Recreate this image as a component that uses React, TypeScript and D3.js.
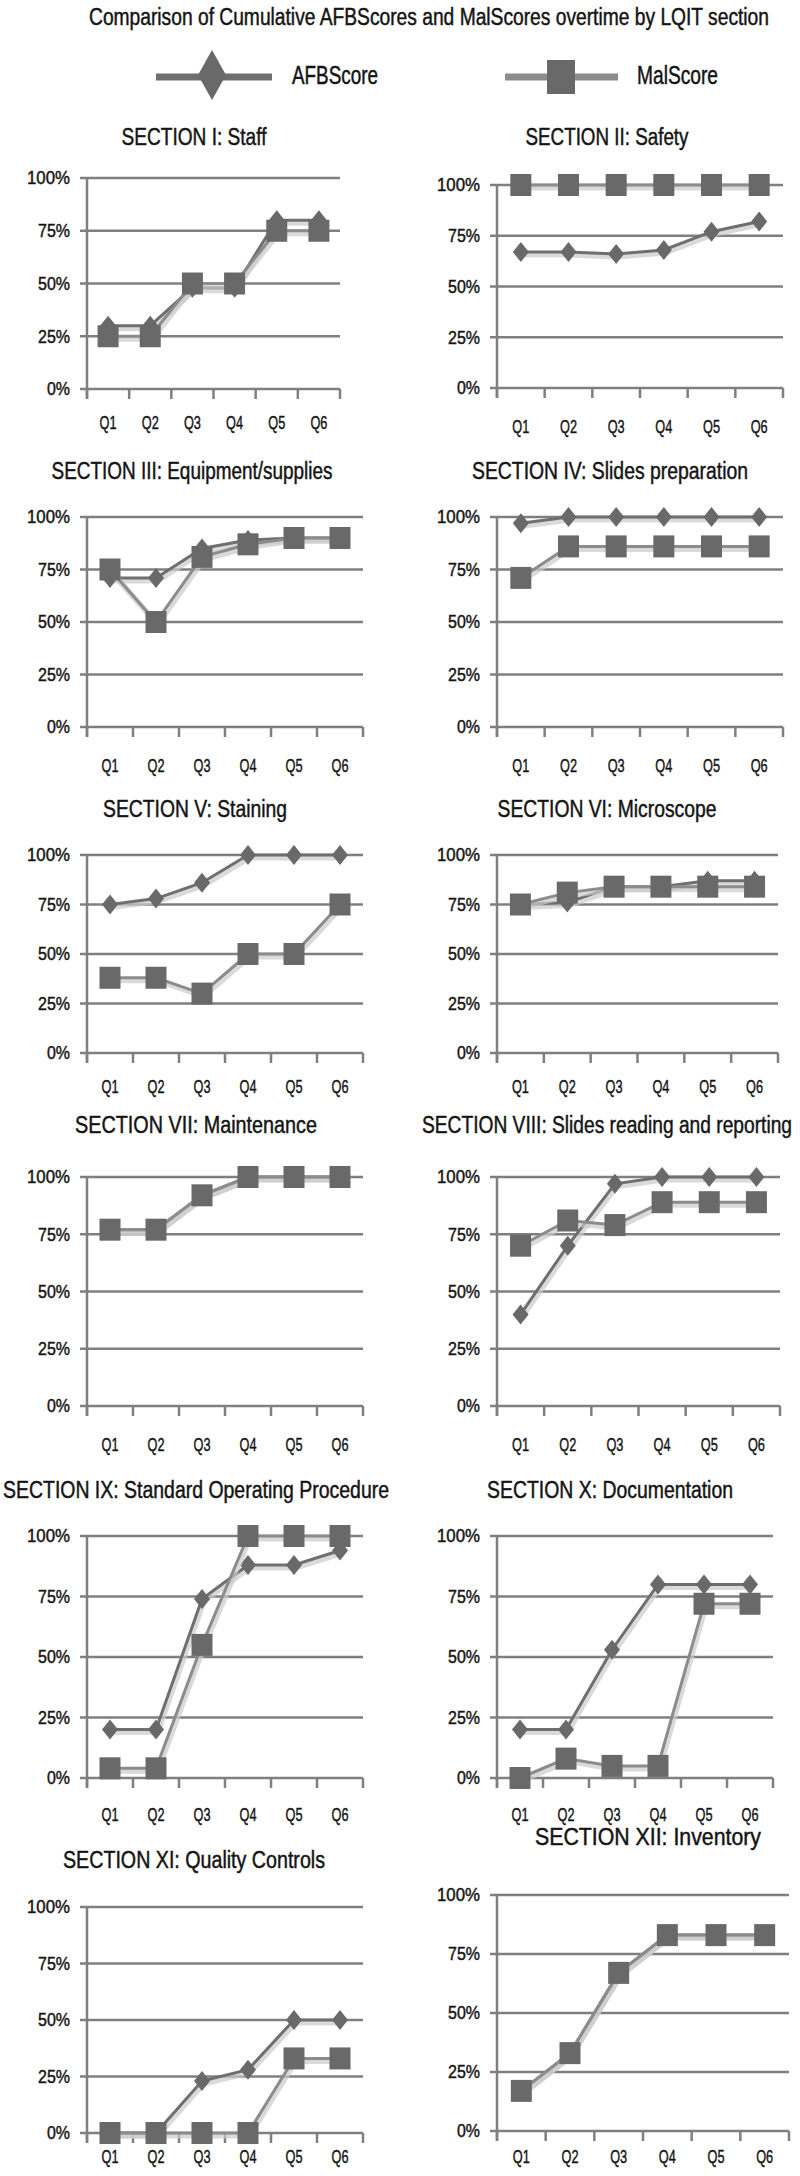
import * as d3 from "d3";

// quarters on the x axis
const quarters = ["Q1", "Q2", "Q3", "Q4", "Q5", "Q6"];
const yTicks = [0, 25, 50, 75, 100];

const sectionTitles = [
  "SECTION I: Staff",
  "SECTION II: Safety",
  "SECTION III: Equipment/supplies",
  "SECTION IV: Slides preparation",
  "SECTION V: Staining",
  "SECTION VI: Microscope",
  "SECTION VII: Maintenance",
  "SECTION VIII: Slides reading and reporting",
  "SECTION IX: Standard Operating Procedure",
  "SECTION X: Documentation",
  "SECTION XI: Quality Controls",
  "SECTION XII: Inventory",
];

// cumulative scores in %, one row per section
const afbScores = [
  [30, 30, 48, 48, 80, 80],
  [67, 67, 66, 68, 77, 82],
  [71, 71, 85, 89, 90, 90],
  [97, 100, 100, 100, 100, 100],
  [75, 78, 86, 100, 100, 100],
  [75, 76, 84, 84, 87, 87],
  [77, 77, 92, 100, 100, 100],
  [40, 70, 97, 100, 100, 100],
  [20, 20, 74, 88, 88, 94],
  [20, 20, 53, 80, 80, 80],
  [0, 0, 23, 28, 50, 50],
  [17, 33, 67, 83, 83, 83],
];

const malScores = [
  [25, 25, 50, 50, 75, 75],
  [100, 100, 100, 100, 100, 100],
  [75, 50, 81, 87, 90, 90],
  [71, 86, 86, 86, 86, 86],
  [38, 38, 30, 50, 50, 75],
  [75, 81, 84, 84, 84, 84],
  [77, 77, 92, 100, 100, 100],
  [70, 81, 79, 89, 89, 89],
  [4, 4, 55, 100, 100, 100],
  [0, 8, 5, 5, 72, 72],
  [0, 0, 0, 0, 33, 33],
  [17, 33, 67, 83, 83, 83],
];

// panel frames (layout only)
const frames = [
  { l: 87, r: 340, t: 178, b: 389, qy: 429, tx: 194, tw: 145, ty: 145 },
  { l: 497, r: 783, t: 185, b: 388, qy: 433, tx: 607, tw: 163, ty: 145 },
  { l: 87, r: 363, t: 517, b: 727, qy: 772, tx: 192, tw: 281, ty: 479 },
  { l: 497, r: 783, t: 517, b: 727, qy: 772, tx: 610, tw: 276, ty: 479 },
  { l: 87, r: 363, t: 855, b: 1053, qy: 1093, tx: 195, tw: 184, ty: 817 },
  { l: 497, r: 778, t: 855, b: 1053, qy: 1093, tx: 607, tw: 219, ty: 817 },
  { l: 87, r: 363, t: 1177, b: 1406, qy: 1451, tx: 196, tw: 242, ty: 1133 },
  { l: 497, r: 780, t: 1177, b: 1406, qy: 1451, tx: 607, tw: 370, ty: 1133 },
  { l: 87, r: 363, t: 1536, b: 1778, qy: 1821, tx: 196, tw: 386, ty: 1498 },
  { l: 497, r: 773, t: 1536, b: 1778, qy: 1821, tx: 610, tw: 246, ty: 1498 },
  { l: 87, r: 363, t: 1907, b: 2133, qy: 2163, tx: 194, tw: 262, ty: 1868 },
  { l: 497, r: 789, t: 1895, b: 2131, qy: 2163, tx: 648, tw: 226, ty: 1845 },
];

const FONT = "'Liberation Sans Narrow', 'Liberation Sans', Arial, sans-serif";
const INK = "#141414";
const GRID = "#7f7f7f";
const AFB_LINE = "#6f6f6f";
const MAL_LINE = "#8c8c8c";
const MARKER = "#696969";
const SHADOW = "#cacaca";

const tickWidth = (v: number) => (v === 100 ? 43 : v === 0 ? 23 : 32);

function Label(props: any) {
  const { w, children, ...rest } = props;
  return (
    <text
      fontFamily={FONT}
      fill={INK}
      stroke={INK}
      strokeWidth={0.45}
      textLength={w}
      lengthAdjust="spacingAndGlyphs"
      {...rest}
    >
      {children}
    </text>
  );
}

function Panel({ idx }: { idx: number }) {
  const f = frames[idx];
  const x = d3.scaleBand().domain(quarters).range([f.l, f.r]);
  const y = d3.scaleLinear().domain([0, 100]).range([f.b, f.t]);
  const cx = (q: string) => (x(q) as number) + x.bandwidth() / 2;
  const line = d3
    .line<number>()
    .x((_, i) => cx(quarters[i]))
    .y((d) => y(d));
  const afb = afbScores[idx];
  const mal = malScores[idx];
  const ticksX = quarters.map((q) => x(q) as number).concat([f.r]);

  return (
    <g>
      <Label x={f.tx} y={f.ty} textAnchor="middle" fontSize={23} w={f.tw}>
        {sectionTitles[idx]}
      </Label>
      {yTicks.map((t) => (
        <g key={t}>
          <line x1={f.l - 7} x2={f.r} y1={y(t)} y2={y(t)} stroke={GRID} strokeWidth={2.5} />
          <Label x={f.l - 17} y={y(t)} dy="0.35em" textAnchor="end" fontSize={18} w={tickWidth(t)}>
            {t}%
          </Label>
        </g>
      ))}
      <line x1={f.l} x2={f.l} y1={f.t} y2={f.b + 10} stroke={GRID} strokeWidth={2.5} />
      {ticksX.map((tx, i) => (
        <line key={i} x1={tx} x2={tx} y1={f.b} y2={f.b + 10} stroke={GRID} strokeWidth={2.5} />
      ))}
      {quarters.map((q) => (
        <Label key={q} x={cx(q)} y={f.qy} textAnchor="middle" fontSize={19} w={17}>
          {q}
        </Label>
      ))}
      {/* AFB series */}
      <path d={line(afb) || ""} fill="none" stroke={SHADOW} strokeWidth={6} opacity={0.7} transform="translate(1.5,2.5)" />
      <path d={line(afb) || ""} fill="none" stroke={AFB_LINE} strokeWidth={3} />
      {afb.map((v, i) => {
        const px = cx(quarters[i]);
        const py = y(v);
        return (
          <path
            key={i}
            d={`M${px},${py - 10}L${px + 8},${py}L${px},${py + 10}L${px - 8},${py}Z`}
            fill={MARKER}
          />
        );
      })}
      {/* Mal series */}
      <path d={line(mal) || ""} fill="none" stroke={SHADOW} strokeWidth={6} opacity={0.7} transform="translate(1.5,2.5)" />
      <path d={line(mal) || ""} fill="none" stroke={MAL_LINE} strokeWidth={3} />
      {mal.map((v, i) => (
        <rect key={i} x={cx(quarters[i]) - 10.5} y={y(v) - 11} width={21} height={22} fill={MARKER} />
      ))}
    </g>
  );
}

export default function App() {
  return (
    <svg
      width={800}
      height={2176}
      style={{ position: "absolute", left: 0, top: 0, background: "#fff" }}
    >
      <rect width={800} height={2176} fill="#fff" />
      <Label x={429} y={25} textAnchor="middle" fontSize={23} w={680}>
        Comparison of Cumulative AFBScores and MalScores overtime by LQIT section
      </Label>
      {/* legend */}
      <g>
        <line x1={156} x2={272} y1={77} y2={77} stroke={AFB_LINE} strokeWidth={7} />
        <path d="M212,50L226,75L212,100L198,75Z" fill={MARKER} />
        <Label x={292} y={84} fontSize={25} w={86}>
          AFBScore
        </Label>
        <line x1={505} x2={618} y1={77} y2={77} stroke={MAL_LINE} strokeWidth={7} />
        <rect x={547} y={60} width={28} height={34} fill={MARKER} />
        <Label x={637} y={84} fontSize={25} w={81}>
          MalScore
        </Label>
      </g>
      {frames.map((_, i) => (
        <Panel key={i} idx={i} />
      ))}
    </svg>
  );
}
